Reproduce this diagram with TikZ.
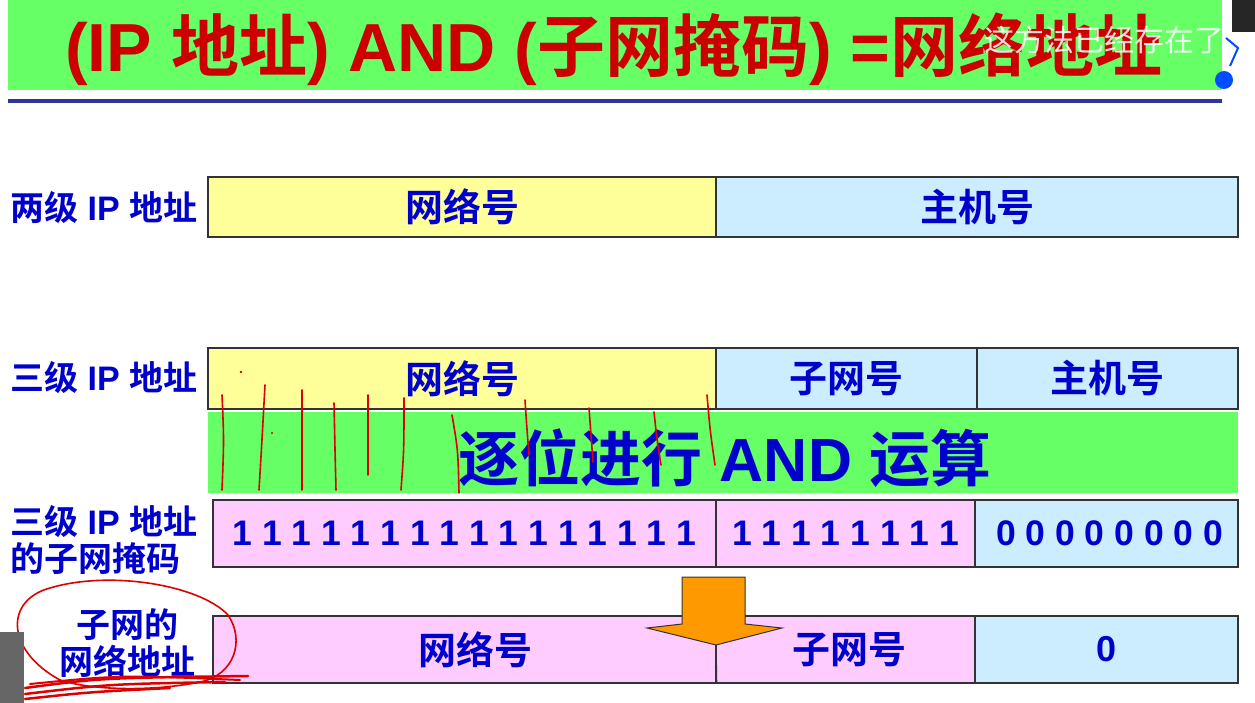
\documentclass[tikz,border=0pt]{standalone}
\usepackage{fontspec}
\setmainfont{Liberation Sans}
\newfontfamily\zhf{Noto Sans CJK SC}[BoldFont={Noto Sans CJK SC Bold}]
\definecolor{titlegreen}{RGB}{102,255,102}
\definecolor{titlered}{RGB}{204,0,0}
\definecolor{txtblue}{RGB}{0,0,204}
\definecolor{cellyellow}{RGB}{255,255,153}
\definecolor{cellblue}{RGB}{204,236,255}
\definecolor{cellpink}{RGB}{255,204,255}
\definecolor{rulenavy}{RGB}{51,51,153}
\definecolor{arroworange}{RGB}{255,153,0}
\definecolor{penred}{RGB}{220,0,0}
\tikzset{
  cell/.style={draw=black!80, line width=1.3pt, inner sep=0pt, text=txtblue,
    font=\fontsize{38}{40}\selectfont\bfseries},
  digits/.style={font=\fontsize{35.5}{38}\selectfont\bfseries},
  lbl/.style={text=txtblue, font=\fontsize{34}{37}\selectfont\bfseries, inner sep=0pt},
  pen/.style={draw=penred, line width=1.6pt, line cap=round}
}
\begin{document}
\begin{tikzpicture}[x=1pt,y=-1pt]
\useasboundingbox (0,0) rectangle (1255,703);
\fill[white] (0,0) rectangle (1255,703);
% title
\node[fill=titlegreen, minimum width=1214pt, minimum height=90pt, inner sep=0pt] (titlebar) at (615,45) {};
\node[text=titlered, font=\fontsize{68}{70}\selectfont\bfseries] (title) at (614,49)
  {(IP {\zhf 地址}) AND ({\zhf 子网掩码}) ={\zhf 网络地址}};
\node[text=white, opacity=0.85, font=\zhf\fontsize{30}{32}\selectfont] (wm) at (1104,40) {这方法已经存在了};
\draw[rulenavy, line width=4pt] (8,101) -- (1222,101);
% right edge icon
\fill[black!85] (1232,0) rectangle (1255,32);
\draw[blue!70!cyan, line width=2pt] (1226,38) -- (1238,48) -- (1230,66);
\fill[blue!70!cyan] (1224,80) circle (9pt);
% row 1
\node[lbl, anchor=west] (l1) at (10,208) {{\zhf 两级} IP {\zhf 地址}};
\node[cell, fill=cellyellow, minimum width=508pt, minimum height=60pt] (a1) at (462,207) {\zhf 网络号};
\node[cell, fill=cellblue, minimum width=522pt, minimum height=60pt] (a2) at (977,207) {\zhf 主机号};
% row 2
\node[lbl, anchor=west] (l2) at (10,378) {{\zhf 三级} IP {\zhf 地址}};
\node[cell, fill=cellyellow, minimum width=508pt, minimum height=61pt] (b1) at (462,378.5) {\zhf 网络号};
\node[cell, fill=cellblue, minimum width=261pt, minimum height=61pt] (b2) at (846.5,378.5) {\zhf 子网号};
\node[cell, fill=cellblue, minimum width=261pt, minimum height=61pt] (b3) at (1107.5,378.5) {\zhf 主机号};
% AND band
\node[fill=titlegreen, minimum width=1030pt, minimum height=81pt, inner sep=0pt] (band) at (723,452.5) {};
\node[text=txtblue, font=\fontsize{61}{63}\selectfont\bfseries] (bandtxt) at (725,458) {{\zhf 逐位进行} AND {\zhf 运算}};
% row 3
\node[lbl, anchor=west, align=left] (l3) at (10,540) {{\zhf 三级} IP {\zhf 地址}\\{\zhf 的子网掩码}};
\node[cell, fill=cellpink, minimum width=503pt, minimum height=67pt, digits] (c1) at (464.5,533.5) {1 1 1 1 1 1 1 1 1 1 1 1 1 1 1 1};
\node[cell, fill=cellpink, minimum width=259pt, minimum height=67pt, digits] (c2) at (845.5,533.5) {1 1 1 1 1 1 1 1};
\node[cell, fill=cellblue, minimum width=263pt, minimum height=67pt, digits] (c3) at (1106.5,533.5) {\hspace*{6pt}0 0 0 0 0 0 0 0};
% row 4
\node[lbl, align=center] (l4) at (127,643) {{\zhf 子网的}\\{\zhf 网络地址}};
\node[cell, fill=cellpink, minimum width=503pt, minimum height=67pt] (d1) at (464.5,649.5) {\hspace*{22pt}\zhf 网络号};
\node[cell, fill=cellpink, minimum width=259pt, minimum height=67pt] (d2) at (845.5,649.5) {\hspace*{8pt}\zhf 子网号};
\node[cell, fill=cellblue, minimum width=263pt, minimum height=67pt, font=\fontsize{36}{38}\selectfont\bfseries] (d3) at (1106.5,649.5) {0};
% orange arrow
\filldraw[fill=arroworange, draw=black!80, line width=1pt]
  (682,577) -- (745,577) -- (745,624) -- (782,628) -- (716,645) -- (647,628) -- (682,624) -- cycle;
\draw[black!80, line width=1.3pt] (716,645) -- (d1.south east);
% hand annotations
\draw[pen] (222,395) .. controls (224,440) .. (222,490);
\draw[pen] (265,385) .. controls (262,440) .. (259,490);
\draw[pen] (302,390) -- (302,490);
\draw[pen] (334,403) .. controls (335,450) .. (336,490);
\draw[pen] (368,395) -- (368,475);
\draw[pen] (404,398) .. controls (404,450) .. (401,490);
\draw[pen] (452,415) .. controls (458,450) .. (459,493);
\draw[pen] (525,400) .. controls (527,430) .. (529,455);
\draw[pen] (589,408) .. controls (591,435) .. (593,462);
\draw[pen] (654,412) .. controls (657,440) .. (661,465);
\draw[pen] (707,395) .. controls (710,430) .. (715,465);
\fill[penred] (241,372) circle (1.4pt);
\fill[penred] (272,433) circle (1.2pt);
\draw[pen] (60,680) .. controls (5,650) and (5,600) .. (50,588)
  .. controls (110,570) and (200,585) .. (228,615)
  .. controls (245,640) and (235,675) .. (200,682)
  .. controls (150,692) and (90,690) .. (60,680);
\draw[pen, line width=2.5pt] (25,688) .. controls (100,678) .. (248,676);
\draw[pen, line width=2.5pt] (25,694) .. controls (110,684) .. (225,682);
\draw[pen, line width=2.5pt] (25,699) .. controls (90,692) .. (170,688);
\draw[pen, line width=2pt] (30,684) .. controls (120,675) .. (240,680);
% player edge
\fill[black!60] (0,632) rectangle (24,703);
\end{tikzpicture}
\end{document}
